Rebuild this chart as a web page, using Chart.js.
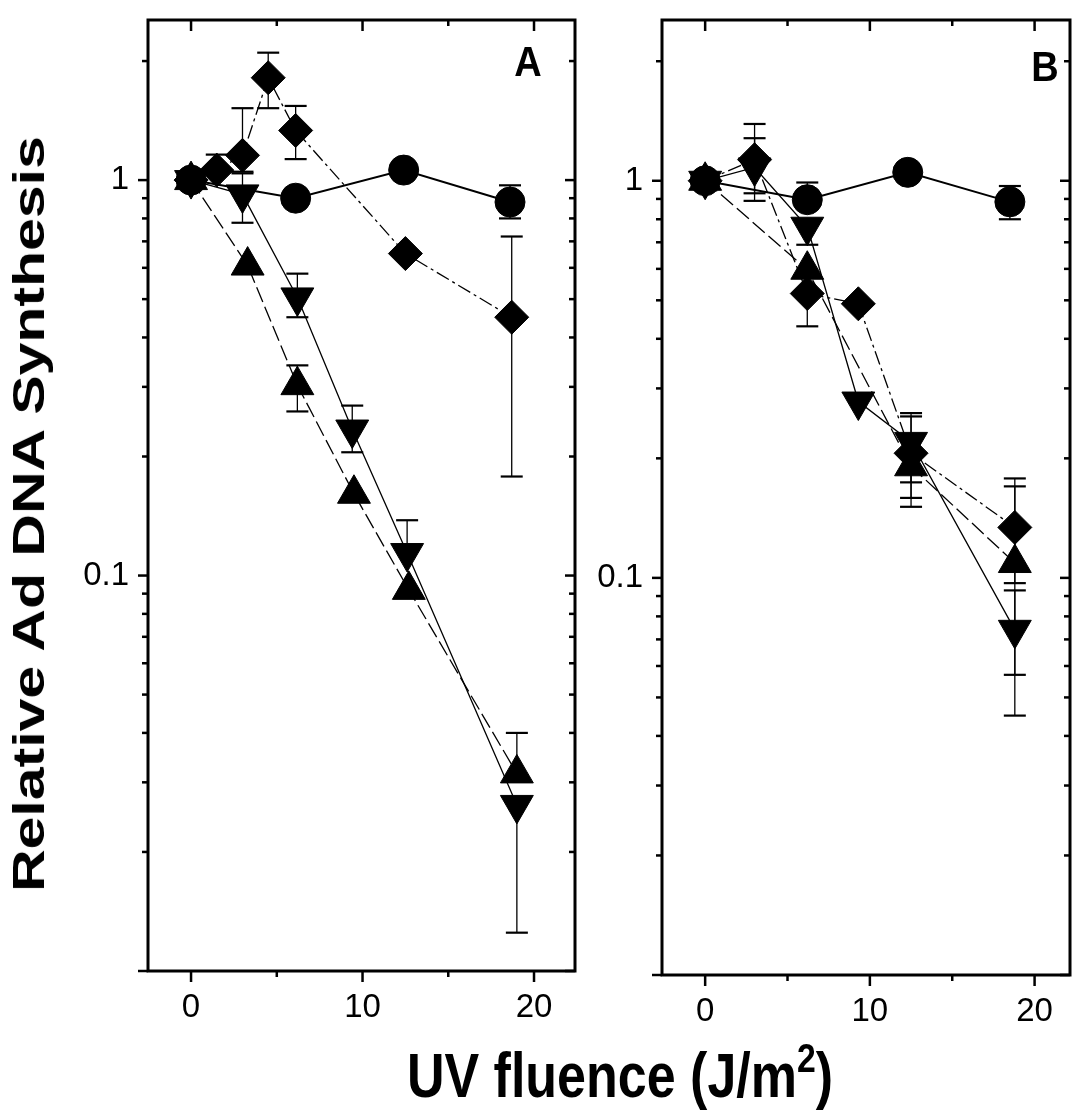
<!DOCTYPE html>
<html>
<head>
<meta charset="utf-8">
<script src="https://cdn.jsdelivr.net/npm/chart.js@4.4.1/dist/chart.umd.min.js"></script>
<style>
  body { margin: 0; background: #fff; width: 1090px; height: 1112px; position: relative; overflow: hidden; font-family: "Liberation Sans", Arial, sans-serif; }
  canvas { position: absolute; top: 0; }
  #chartA { left: 0; }
  #chartB { left: 590px; }
  .txt { position: absolute; white-space: nowrap; line-height: 1; font-weight: bold; color: #000; }
  #ytitle { left: 29px; top: 514px; font-size: 44px; transform: translate(-50%, -50%) rotate(-90deg) scaleX(1.34); }
  #xtitle { left: 620px; top: 1075px; font-size: 52px; transform: translate(-50%, -50%) scaleY(1.2); }
  #xtitle sup { font-size: 0.65em; line-height: 0; vertical-align: 0.6em; }
  #labA { left: 528px; top: 62px; font-size: 38px; transform: translate(-50%, -50%) scaleY(1.1); }
  #labB { left: 1045px; top: 67px; font-size: 38px; transform: translate(-50%, -50%) scaleY(1.1); }
</style>
</head>
<body>
<canvas id="chartA" width="600" height="1112"></canvas>
<canvas id="chartB" width="500" height="1112"></canvas>
<div class="txt" id="ytitle">Relative Ad DNA Synthesis</div>
<div class="txt" id="xtitle">UV fluence (J/m<sup>2</sup>)</div>
<div class="txt" id="labA">A</div>
<div class="txt" id="labB">B</div>
<script>
// axis ticks
const xTickValues = [0, 10, 20];
const xMinorValues = [5, 15];
const yTickValues = [0.1, 1];

// panel A
const aCircX = [0, 6.1, 12.4, 18.6];
const aCircY = [1, 0.90, 1.06, 0.88];
const aCircLo = [null, null, null, 0.80];
const aCircHi = [null, null, null, 0.97];

const aDiaX = [0, 1.5, 3, 4.5, 6.1, 12.5, 18.7];
const aDiaY = [1, 1.06, 1.155, 1.815, 1.335, 0.652, 0.45];
const aDiaLo = [null, null, 1.05, 1.52, 1.13, null, 0.178];
const aDiaHi = [null, 1.16, 1.52, 2.10, 1.54, null, 0.72];

const aDownX = [0, 3, 6.2, 9.4, 12.6, 19];
const aDownY = [1, 0.92, 0.505, 0.234, 0.114, 0.0263];
const aDownLo = [null, 0.78, 0.45, 0.205, null, 0.0125];
const aDownHi = [null, 1.04, 0.58, 0.269, 0.138, null];

const aUpX = [0, 3.3, 6.2, 9.5, 12.7, 19];
const aUpY = [1, 0.608, 0.303, 0.161, 0.092, 0.0316];
const aUpLo = [null, null, 0.26, null, null, null];
const aUpHi = [null, null, 0.34, null, null, 0.040];

// panel B
const bCircX = [0, 6.2, 12.3, 18.5];
const bCircY = [1, 0.896, 1.05, 0.885];
const bCircLo = [null, null, null, 0.80];
const bCircHi = [null, 0.99, null, 0.97];

const bDiaX = [0, 3, 6.2, 9.3, 12.5, 18.8];
const bDiaY = [1, 1.13, 0.52, 0.49, 0.206, 0.134];
const bDiaLo = [null, 0.93, 0.43, null, 0.174, 0.097];
const bDiaHi = [null, 1.28, null, null, 0.255, 0.178];

const bDownX = [0, 3, 6.2, 9.3, 12.5, 18.8];
const bDownY = [1, 1.08, 0.766, 0.278, 0.22, 0.074];
const bDownLo = [null, 0.89, 0.69, null, 0.159, 0.045];
const bDownHi = [null, 1.39, null, null, 0.26, 0.093];

const bUpX = [0, 6.2, 12.5, 18.8];
const bUpY = [1, 0.597, 0.191, 0.109];
const bUpLo = [null, null, 0.151, 0.057];
const bUpHi = [null, null, null, 0.17];

const looks = {
  circle: { shape: "circle", r: 15, rot: 0, width: 2, dash: [] },
  diamond: { shape: "rectRot", r: 17, rot: 0, width: 1.3, dash: [14, 4, 3, 4] },
  down: { shape: "triangle", r: 19, rot: 180, width: 1.3, dash: [] },
  up: { shape: "triangle", r: 19, rot: 0, width: 1.3, dash: [16, 5] },
};

function series(xs, ys, lo, hi, kind) {
  const st = looks[kind];
  return {
    data: xs.map((x, i) => ({ x: x, y: ys[i] })),
    errLo: lo,
    errHi: hi,
    borderColor: "#000",
    backgroundColor: "#000",
    borderWidth: st.width,
    borderDash: st.dash,
    pointStyle: st.shape,
    pointRadius: st.r,
    pointHoverRadius: st.r,
    pointRotation: st.rot,
    pointBorderWidth: 1,
    pointBackgroundColor: "#000",
    pointBorderColor: "#000",
    showLine: true,
    fill: false,
    tension: 0,
  };
}

// box, tick marks and error bars
const framePlugin = {
  id: "frame",
  afterDatasetsDraw(chart) {
    const { ctx, scales } = chart;
    const x = scales.x, y = scales.y;
    ctx.save();
    ctx.strokeStyle = "#000";
    chart.data.datasets.forEach((ds) => {
      ds.data.forEach((p, i) => {
        const px = x.getPixelForValue(p.x);
        const py = y.getPixelForValue(p.y);
        [ds.errLo[i], ds.errHi[i]].forEach((v) => {
          if (v == null) return;
          const ey = y.getPixelForValue(v);
          ctx.lineWidth = 1.3;
          ctx.beginPath();
          ctx.moveTo(px, py);
          ctx.lineTo(px, ey);
          ctx.stroke();
          ctx.lineWidth = 2.2;
          ctx.beginPath();
          ctx.moveTo(px - 11, ey);
          ctx.lineTo(px + 11, ey);
          ctx.stroke();
        });
      });
    });
    ctx.restore();
  },
  afterDraw(chart) {
    const { ctx, chartArea: a, scales } = chart;
    const x = scales.x, y = scales.y;
    ctx.save();
    ctx.strokeStyle = "#000";
    ctx.lineWidth = 3;
    ctx.strokeRect(a.left, a.top, a.right - a.left, a.bottom - a.top);
    ctx.lineWidth = 2.5;
    const line = (x1, y1, x2, y2) => {
      ctx.beginPath();
      ctx.moveTo(x1, y1);
      ctx.lineTo(x2, y2);
      ctx.stroke();
    };
    xTickValues.concat(xMinorValues).forEach((v) => {
      const px = x.getPixelForValue(v);
      const len = xTickValues.includes(v) ? 11 : 6;
      line(px, a.bottom, px, a.bottom + len);
      line(px, a.top, px, a.top + len);
    });
    for (let n = -2; n <= 0; n++) {
      for (let k = 1; k <= 9; k++) {
        const v = k * Math.pow(10, n);
        if (v < y.min || v > y.max) continue;
        const py = y.getPixelForValue(v);
        const len = k === 1 ? 10 : 6;
        line(a.left - len, py, a.left, py);
        line(a.right - len, py, a.right, py);
      }
    }
    ctx.restore();
  },
};

function makePanel(id, sets, box) {
  return new Chart(document.getElementById(id), {
    type: "line",
    data: { datasets: sets },
    options: {
      responsive: false,
      animation: false,
      layout: { padding: { top: box.top, right: box.right, left: 0, bottom: 0 } },
      plugins: { legend: { display: false }, tooltip: { enabled: false } },
      scales: {
        x: {
          type: "linear",
          min: box.xMin,
          max: box.xMax,
          grid: { display: false, drawTicks: false },
          border: { display: false },
          afterBuildTicks: (s) => { s.ticks = xTickValues.map((v) => ({ value: v })); },
          afterFit: (s) => {
            s.height = box.xHeight;
            s.paddingLeft = 0;
            s.paddingRight = 0;
          },
          ticks: { padding: 17, color: "#000", font: { family: "Liberation Sans, Arial", size: 33 } },
        },
        y: {
          type: "logarithmic",
          min: 0.01,
          max: 2.54,
          grid: { display: false, drawTicks: false },
          border: { display: false },
          afterBuildTicks: (s) => { s.ticks = yTickValues.map((v) => ({ value: v })); },
          afterFit: (s) => {
            s.width = box.yWidth;
            s.paddingTop = 0;
            s.paddingBottom = 0;
          },
          ticks: {
            padding: 19,
            color: "#000",
            font: { family: "Liberation Sans, Arial", size: 33 },
            callback: (v) => String(v),
          },
        },
      },
    },
    plugins: [framePlugin],
  });
}

makePanel("chartA", [
  series(aCircX, aCircY, aCircLo, aCircHi, "circle"),
  series(aDiaX, aDiaY, aDiaLo, aDiaHi, "diamond"),
  series(aDownX, aDownY, aDownLo, aDownHi, "down"),
  series(aUpX, aUpY, aUpLo, aUpHi, "up"),
], { top: 14, right: 25, yWidth: 148, xHeight: 141, xMin: -2.51, xMax: 22.39 });

makePanel("chartB", [
  series(bCircX, bCircY, bCircLo, bCircHi, "circle"),
  series(bDiaX, bDiaY, bDiaLo, bDiaHi, "diamond"),
  series(bDownX, bDownY, bDownLo, bDownHi, "down"),
  series(bUpX, bUpY, bUpLo, bUpHi, "up"),
], { top: 20, right: 2, yWidth: 72, xHeight: 137, xMin: -2.62, xMax: 22.15 });
</script>
</body>
</html>
